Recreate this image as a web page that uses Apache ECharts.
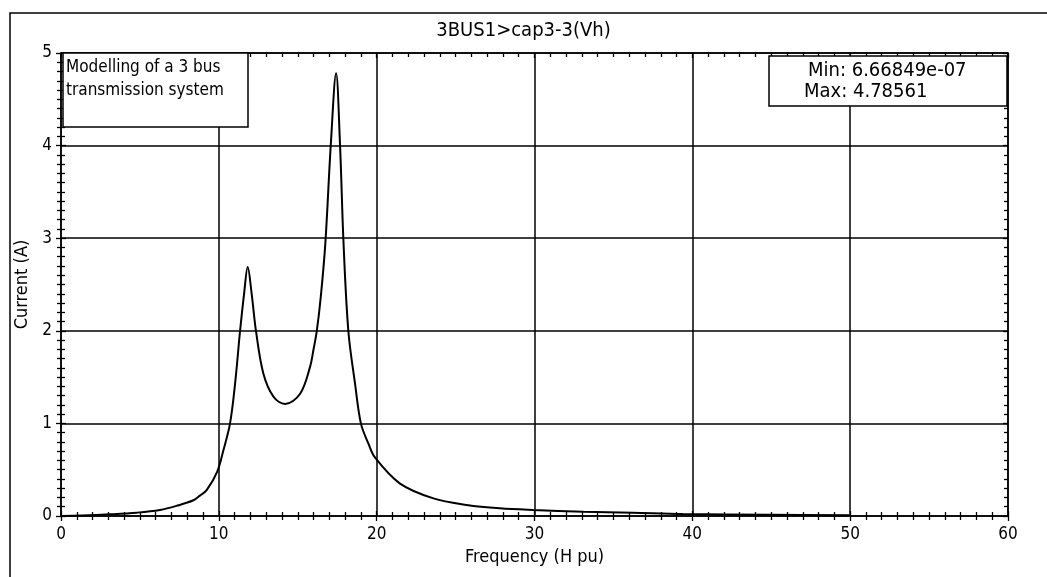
<!DOCTYPE html>
<html>
<head>
<meta charset="utf-8">
<script src="https://cdn.jsdelivr.net/npm/echarts@6/dist/echarts.min.js"></script>
<style>
html, body { margin: 0; padding: 0; background: #fff; }
#chart { width: 1047px; height: 577px; }
</style>
</head>
<body>
<div id="chart"></div>
<script>
// frequency (H pu) and current (A)
var freqValues = [0, 1.3, 3.1, 4.8, 6.27, 7.33, 8.39, 8.8, 9.23, 9.9, 10.29, 10.71, 11.03, 11.34, 11.6, 11.83,
    12.08, 12.36, 12.82, 13.46, 14.2, 15.15, 15.78, 15.99, 16.2, 16.46, 16.75, 17.09, 17.43, 17.68, 17.9,
    18.21, 18.63, 19.0, 19.47, 19.9, 21.48, 23.6, 25.7, 27.8, 29.9, 33.1, 36.2, 39.4, 45, 50];
var currentValues = [0, 0.005, 0.018, 0.036, 0.065, 0.11, 0.17, 0.22, 0.28, 0.48, 0.71, 1.0, 1.43, 1.99, 2.4, 2.69,
    2.4, 1.99, 1.54, 1.29, 1.21, 1.32, 1.61, 1.79, 1.99, 2.37, 2.95, 4.0, 4.78, 4.0, 2.95,
    1.99, 1.43, 1.0, 0.785, 0.63, 0.35, 0.19, 0.12, 0.083, 0.065, 0.047, 0.036, 0.022, 0.013, 0.008];
var noteLines = ['Modelling of a 3 bus', 'transmission system'];
var statLines = ['Min: 6.66849e-07', 'Max: 4.78561'];

var FONT = '"DejaVu Sans Condensed", "Liberation Sans", sans-serif';

var points = [];
for (var i = 0; i < freqValues.length; i++) {
    points.push([freqValues[i], currentValues[i]]);
}

var myChart = echarts.init(document.getElementById('chart'));

function xAx(pos, inside, main) {
    return {
        type: 'value', position: pos, min: 0, max: 60, interval: 10,
        axisLine: { show: pos !== 'bottom' || main, onZero: false, lineStyle: { color: '#000', width: 1.5 } },
        axisTick: { show: true, inside: inside, length: 5, lineStyle: { color: '#000', width: 1.3 } },
        minorTick: { show: true, splitNumber: 10, length: 4, lineStyle: { color: '#000', width: 1.3 } },
        splitLine: { show: main, lineStyle: { color: '#000', width: 1.5 } },
        axisLabel: { show: main, color: '#000', fontSize: 17, margin: 10, fontFamily: FONT },
        name: main ? 'Frequency (H pu)' : '',
        nameLocation: 'middle', nameGap: 31,
        nameTextStyle: { color: '#000', fontSize: 18, fontFamily: FONT }
    };
}
function yAx(pos, inside, main) {
    return {
        type: 'value', position: pos, min: 0, max: 5, interval: 1,
        axisLine: { show: pos !== 'left' || main, onZero: false, lineStyle: { color: '#000', width: 1.5 } },
        axisTick: { show: true, inside: inside, length: 5, lineStyle: { color: '#000', width: 1.3 } },
        minorTick: { show: true, splitNumber: 10, length: 4, lineStyle: { color: '#000', width: 1.3 } },
        splitLine: { show: main, lineStyle: { color: '#000', width: 1.5 } },
        axisLabel: { show: main, color: '#000', fontSize: 17, margin: 9, fontFamily: FONT },
        name: main ? 'Current (A)' : '',
        nameLocation: 'middle', nameGap: 30,
        nameTextStyle: { color: '#000', fontSize: 18, fontFamily: FONT }
    };
}

var option = {
    backgroundColor: '#fff',
    animation: false,
    title: {
        text: '3BUS1>cap3-3(Vh)',
        left: 'center', top: 16,
        textStyle: { color: '#000', fontSize: 20, fontWeight: 'normal', fontFamily: FONT }
    },
    grid: { left: 61, right: 39, top: 53, bottom: 61 },
    xAxis: [xAx('bottom', false, true), xAx('bottom', true, false), xAx('top', true, false)],
    yAxis: [yAx('left', false, true), yAx('left', true, false), yAx('right', true, false)],
    series: [{
        type: 'line',
        xAxisIndex: 0, yAxisIndex: 0,
        data: points,
        symbol: 'none',
        smooth: 0.35,
        lineStyle: { color: '#000', width: 2 },
        z: 5
    }],
    graphic: [
        {
            type: 'polyline',
            shape: { points: [[10, 577], [10, 13], [1047, 13]] },
            style: { stroke: '#000', lineWidth: 1.5, fill: null }
        },
        {
            type: 'rect', z: 10,
            shape: { x: 63, y: 53, width: 185, height: 74 },
            style: { fill: '#fff', stroke: '#000', lineWidth: 1.5 }
        },
        {
            type: 'text', z: 11, left: 66, top: 56,
            style: { text: noteLines.join('\n'), fill: '#000', fontSize: 17, lineHeight: 23, fontFamily: FONT }
        },
        {
            type: 'rect', z: 10,
            shape: { x: 769, y: 56, width: 238, height: 50 },
            style: { fill: '#fff', stroke: '#000', lineWidth: 1.5 }
        },
        {
            type: 'text', z: 11, left: 808, top: 61,
            style: { text: statLines[0], fill: '#000', fontSize: 20, fontFamily: FONT }
        },
        {
            type: 'text', z: 11, left: 804, top: 82,
            style: { text: statLines[1], fill: '#000', fontSize: 20, fontFamily: FONT }
        }
    ]
};
myChart.setOption(option);
</script>
</body>
</html>
